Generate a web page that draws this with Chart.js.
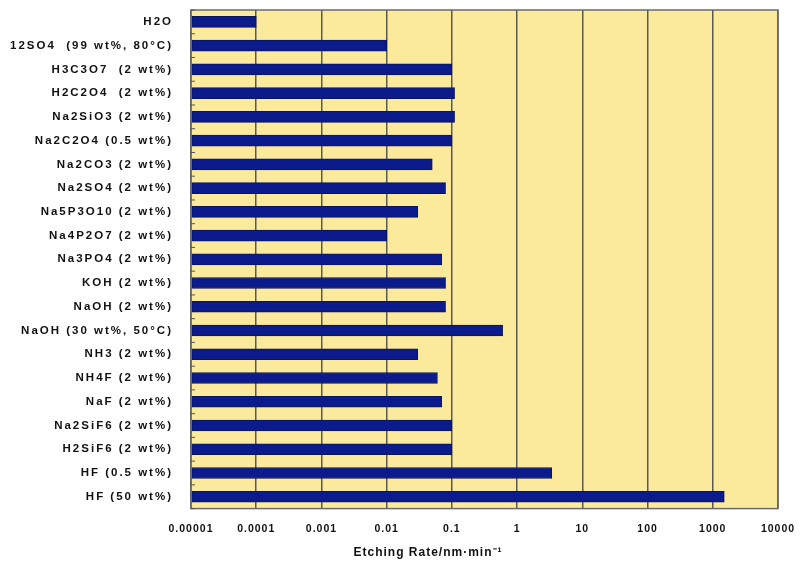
<!DOCTYPE html>
<html>
<head>
<meta charset="utf-8">
<script src="https://cdn.jsdelivr.net/npm/chart.js@4.4.0/dist/chart.umd.min.js"></script>
<style>
  html, body { margin: 0; padding: 0; background: #ffffff; }
  #wrap { width: 811px; height: 569px; }
</style>
</head>
<body>
<div id="wrap"><canvas id="etchChart"></canvas></div>
<script>
// Etchants (top to bottom, as in the picture)
var categories = [
    'H2O',
    '12SO4  (99 wt%, 80°C)',
    'H3C3O7  (2 wt%)',
    'H2C2O4  (2 wt%)',
    'Na2SiO3 (2 wt%)',
    'Na2C2O4 (0.5 wt%)',
    'Na2CO3 (2 wt%)',
    'Na2SO4 (2 wt%)',
    'Na5P3O10 (2 wt%)',
    'Na4P2O7 (2 wt%)',
    'Na3PO4 (2 wt%)',
    'KOH (2 wt%)',
    'NaOH (2 wt%)',
    'NaOH (30 wt%, 50°C)',
    'NH3 (2 wt%)',
    'NH4F (2 wt%)',
    'NaF (2 wt%)',
    'Na2SiF6 (2 wt%)',
    'H2SiF6 (2 wt%)',
    'HF (0.5 wt%)',
    'HF (50 wt%)'
];

// Etching rate, nm/min
var etchRates = [
    0.0001, 0.01, 0.1, 0.11, 0.11, 0.1, 0.05, 0.08, 0.03, 0.01,
    0.07, 0.08, 0.08, 0.6, 0.03, 0.06, 0.07, 0.1, 0.1, 3.4, 1500
];

var tickValues = [0.00001, 0.0001, 0.001, 0.01, 0.1, 1, 10, 100, 1000, 10000];
var tickLabels = ['0.00001', '0.0001', '0.001', '0.01', '0.1', '1', '10', '100', '1000', '10000'];

var fontFamily = 'Arial, "Liberation Sans", sans-serif';

// yellow plot area, frame, and the wide lettering of the original
var plotBackground = {
    id: 'plotBackground',
    afterLayout: function(chart) {
        // the axis title sits left of the plot centre in the original
        var tb = chart.titleBlock;
        if (tb) {
            tb.left = 78;
            tb.width = tb.right - tb.left;
        }
    },
    beforeDraw: function(chart) {
        var a = chart.chartArea;
        var ctx = chart.ctx;
        ctx.save();
        ctx.fillStyle = '#fbe99c';
        ctx.fillRect(a.left, a.top, a.right - a.left, a.bottom - a.top);
        ctx.restore();
        ctx.letterSpacing = '1px'; // x ticks + title
    },
    afterDatasetsDraw: function(chart) {
        var a = chart.chartArea;
        var ctx = chart.ctx;
        ctx.save();
        ctx.strokeStyle = '#6b6b6b';
        ctx.lineWidth = 1.5;
        ctx.strokeRect(a.left, a.top, a.right - a.left, a.bottom - a.top);
        // small category ticks on the left edge
        ctx.lineWidth = 1;
        ctx.strokeStyle = '#555';
        for (var i = 0; i <= categories.length; i++) {
            var yy = a.top + i * (a.bottom - a.top) / categories.length;
            ctx.beginPath();
            ctx.moveTo(a.left, yy);
            ctx.lineTo(a.left + 4, yy);
            ctx.stroke();
        }
        ctx.restore();
        ctx.letterSpacing = '2px'; // category labels (drawn on z=1 layer)
    },
    afterDraw: function(chart) {
        chart.ctx.letterSpacing = '0px';
    }
};

var ctx = document.getElementById('etchChart').getContext('2d');
var etchChart = new Chart(ctx, {
    type: 'bar',
    data: {
        labels: categories,
        datasets: [{
            label: 'Etching Rate',
            data: etchRates,
            backgroundColor: '#0b1b8c',
            borderColor: '#08145e',
            borderWidth: 1,
            borderSkipped: false,
            barThickness: 11,
            base: 0.00001
        }]
    },
    options: {
        indexAxis: 'y',
        responsive: true,
        maintainAspectRatio: false,
        animation: false,
        layout: {
            autoPadding: false,
            padding: { top: 10, right: 33, left: 0, bottom: 0 }
        },
        plugins: {
            legend: { display: false },
            tooltip: { enabled: false },
            title: {
                display: true,
                position: 'bottom',
                text: 'Etching Rate/nm·min⁻¹',
                color: '#111',
                padding: { top: 4, bottom: 9 },
                font: { family: fontFamily, size: 12, weight: 'bold' }
            }
        },
        scales: {
            x: {
                type: 'logarithmic',
                min: 0.00001,
                max: 10000,
                afterBuildTicks: function(scale) {
                    scale.ticks = tickValues.map(function(v) { return { value: v }; });
                },
                afterFit: function(scale) { scale.height = 33; },
                grid: {
                    color: '#5a5a50',
                    lineWidth: 1.5,
                    drawTicks: false
                },
                border: { display: false },
                ticks: {
                    autoSkip: false,
                    maxRotation: 0,
                    padding: 14,
                    color: '#111',
                    font: { family: fontFamily, size: 10.5, weight: 'bold' },
                    callback: function(value, index) { return tickLabels[index]; }
                }
            },
            y: {
                afterFit: function(scale) {
                    scale.width = 191;
                    scale.paddingTop = 0;
                    scale.paddingBottom = 0;
                },
                grid: { display: false },
                border: { display: false },
                ticks: {
                    z: 1,
                    autoSkip: false,
                    padding: 10,
                    color: '#111',
                    font: { family: fontFamily, size: 11.5, weight: 'bold' }
                }
            }
        }
    },
    plugins: [plotBackground]
});
</script>
</body>
</html>
